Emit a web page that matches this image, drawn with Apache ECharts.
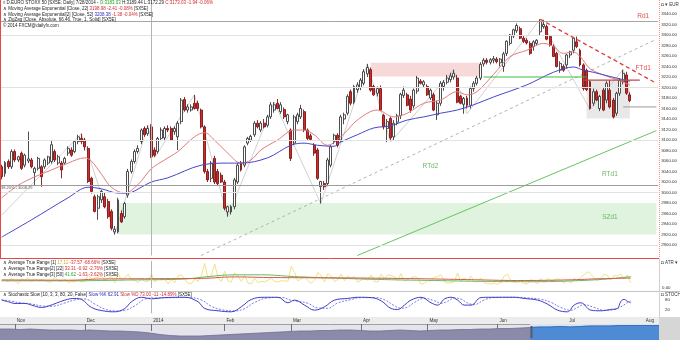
<!DOCTYPE html>
<html>
<head>
<meta charset="utf-8">
<title>EURO STOXX 50 Daily</title>
<script src="https://cdn.jsdelivr.net/npm/echarts@6/dist/echarts.min.js"></script>
<style>
html,body{margin:0;padding:0;background:#ffffff;}
#chart{width:680px;height:340px;}
</style>
</head>
<body>
<div id="chart"></div>
<script>
// ---------------- DATA ----------------
const firstDay = '2013-10-28';
const closedDays = ['2013-12-25','2013-12-26','2014-01-01','2014-04-18','2014-04-21','2014-05-01'];
const blankDaysAfter = 8;
const monthNames = ['Jan','Feb','Mar','Apr','May','Jun','Jul','Aug','Sep','Oct','Nov','Dec'];

const openP = [
3049,3036,3059,3049,3078,3062,3075,3052,3060,3062,
3038,3046,3049,3049,3056,3059,3078,3056,3056,3056,
3075,3081,3078,3097,3103,3100,3084,3027,2992,2970,
2986,2992,2983,2964,2925,2925,2960,2954,2995,3040,
3059,3078,3097,3122,3112,3125,3081,3078,3103,3104,
3122,3122,3116,3106,3135,3177,3157,3157,3170,3170,
3157,3125,3040,3027,3065,3040,3033,3020,2963,2963,
2973,3020,3056,3052,3094,3100,3110,3132,3119,3132,
3128,3144,3157,3170,3154,3158,3135,3119,3094,3135,
3144,3154,3119,3108,3090,3081,3011,3017,3017,3052,
3097,3109,3100,3140,3151,3192,3172,3196,3200,3208,
3226,3234,3202,3189,3198,3147,3122,3141,3106,3134,
3146,3185,3186,3178,3165,3193,3212,3205,3202,3180,
3186,3148,3170,3202,3210,3215,3220,3218,3183,3168,
3180,3166,3198,3208,3218,3245,3252,3248,3252,3254,
3247,3240,3265,3284,3298,3308,3312,3294,3290,3284,
3278,3284,3306,3316,3316,3297,3278,3265,3233,3240,
3243,3262,3271,3287,3271,3243,3233,3211,3170,3192,
3160,3195,3176,3195,3176,3151,3189,3211,3224,3186];
const highP = [
3053,3060,3063,3082,3082,3070,3078,3074,3116,3066,
3049,3068,3052,3065,3070,3100,3082,3072,3060,3068,
3088,3086,3100,3110,3112,3104,3088,3030,2996,2996,
3005,3000,2988,2968,2936,2990,2966,2982,3045,3063,
3082,3090,3122,3126,3128,3130,3086,3106,3124,3126,
3128,3126,3126,3136,3180,3182,3168,3168,3186,3175,
3160,3128,3045,3060,3070,3045,3038,3024,2975,2976,
3028,3056,3060,3090,3106,3110,3136,3138,3136,3140,
3148,3172,3172,3178,3172,3162,3150,3122,3148,3152,
3167,3158,3122,3112,3094,3085,3022,3022,3066,3090,
3112,3113,3148,3152,3187,3196,3205,3210,3218,3235,
3245,3238,3205,3202,3204,3150,3140,3145,3138,3150,
3190,3202,3190,3184,3198,3222,3216,3214,3206,3198,
3190,3175,3212,3214,3224,3228,3234,3224,3186,3182,
3184,3202,3212,3222,3248,3256,3256,3256,3260,3258,
3256,3268,3290,3302,3312,3322,3316,3298,3294,3288,
3290,3292,3330,3329,3320,3300,3282,3268,3250,3244,
3264,3270,3296,3297,3274,3246,3236,3214,3198,3196,
3186,3200,3212,3214,3180,3192,3218,3234,3230,3191];
const lowP = [
3025,3030,3045,3045,3058,3058,3043,3048,3056,3046,
3014,3042,3011,3045,3052,3055,3058,3052,3027,3052,
3070,3068,3075,3092,3092,3080,3018,2998,2962,2948,
2980,2970,2950,2928,2920,2922,2942,2950,2990,3036,
3055,3074,3092,3106,3108,3066,3068,3074,3098,3098,
3115,3098,3110,3081,3130,3154,3152,3154,3158,3155,
3122,3036,3020,3020,3016,3014,3018,2966,2954,2958,
2968,3016,3040,3048,3090,3096,3106,3122,3115,3122,
3124,3140,3152,3160,3150,3140,3130,3060,3090,3130,
3140,3115,3100,3098,3070,3024,2979,3005,3012,3048,
3092,3086,3096,3130,3147,3166,3168,3190,3195,3204,
3220,3192,3184,3183,3155,3120,3096,3100,3100,3128,
3140,3180,3164,3152,3160,3188,3206,3200,3184,3176,
3155,3138,3165,3194,3206,3210,3215,3170,3168,3150,
3160,3160,3192,3204,3214,3240,3244,3244,3246,3246,
3240,3230,3260,3280,3294,3304,3292,3285,3282,3262,
3270,3280,3300,3312,3290,3278,3258,3238,3228,3230,
3236,3256,3265,3275,3240,3194,3193,3158,3165,3174,
3155,3155,3170,3160,3141,3146,3184,3206,3186,3172];
const closeP = [
3030,3057,3049,3078,3062,3068,3046,3071,3064,3049,
3046,3065,3030,3062,3068,3091,3062,3068,3043,3065,
3084,3071,3097,3106,3097,3087,3021,3002,2964,2992,
3002,2973,2954,2932,2930,2986,2944,2979,3040,3059,
3078,3084,3119,3110,3122,3068,3071,3103,3119,3122,
3119,3100,3122,3132,3176,3157,3163,3163,3160,3160,
3125,3040,3024,3056,3020,3017,3020,2970,2973,2973,
3024,3052,3043,3087,3103,3107,3132,3125,3132,3125,
3144,3167,3167,3160,3167,3144,3148,3065,3144,3148,
3160,3119,3103,3101,3075,3027,3021,3011,3062,3087,
3109,3090,3144,3148,3183,3170,3202,3205,3214,3230,
3238,3195,3186,3198,3157,3125,3135,3104,3132,3146,
3187,3195,3166,3157,3195,3218,3208,3211,3186,3195,
3157,3170,3208,3210,3218,3222,3227,3172,3170,3179,
3166,3198,3208,3218,3244,3252,3248,3253,3255,3249,
3254,3264,3288,3300,3310,3318,3294,3288,3285,3265,
3287,3290,3326,3320,3292,3281,3259,3240,3246,3233,
3262,3268,3294,3278,3243,3198,3196,3160,3192,3176,
3183,3157,3208,3163,3144,3189,3214,3227,3189,3175];

// EMA lines read at sample candles (index, value)
const ema22Idx = [0,5,10,15,20,25,27,30,33,37,41,45,49,53,58,61,64,68,72,75,78,83,88,91,94,98,103,107,113,118,122,127,132,137,140,143,148,153,158,163,166,169,172,174,177,181,185,189];
const ema22Val = [2990,3014,3030,3043,3056,3066,3060,3035,3010,2999,3015,3045,3062,3078,3106,3114,3100,3075,3056,3062,3081,3100,3119,3119,3110,3090,3112,3138,3157,3144,3151,3170,3176,3192,3186,3192,3225,3259,3271,3284,3278,3265,3268,3259,3236,3224,3215,3205];
const ema52Idx = [0,9,20,26,30,35,38,42,45,50,60,68,72,80,87,91,95,100,102,107,112,117,122,127,132,137,142,148,158,166,172,175,178,183,189];
const ema52Val = [2915,2948,2990,3010,3007,2999,2999,3010,3020,3028,3052,3056,3056,3066,3090,3094,3090,3088,3096,3110,3123,3127,3138,3144,3151,3157,3167,3182,3205,3229,3239,3233,3229,3221,3212];
const zigzagIdx = [0,24,34,44,46,58,68,82,96,110,117,136,140,162,177,187,189];
const zigzagVal = [2957,3112,2920,3128,3066,3186,2954,3172,2979,3245,3096,3234,3150,3330,3158,3234,3183];

// ATR panel
const atr1 = [
24,28,20,32,24,14,30,26,34,22, 30,26,28,26,20,20,36,24,22,30,
18,22,20,26,20,22,44,30,34,36, 40,26,32,38,18,50,24,32,46,28,
26,18,32,22,22,48,20,30,28,30, 14,28,18,40,44,28,16,14,30,22,
40,82,30,42,80,34,22,56,24,20, 50,40,22,42,16,14,32,18,22,20,
26,32,22,20,24,24,22,72,52,24, 30,40,24,16,26,52,42,20,48,40,
22,28,46,24,40,32,38,20,26,32, 26,44,22,20,46,30,44,42,38,24,
48,22,28,34,38,34,12,16,24,24, 36,38,44,22,16,18,20,50,20,34,
24,40,22,20,34,18,14,14,16,12, 18,40,46,24,20,20,26,14,14,28,
22,14,32,18,32,24,26,32,24,16, 28,16,32,24,36,44,54,46,34,24,
32,46,42,26,42,40,46,30,44,17];
const atr22Idx = [0,20,30,45,60,70,80,95,110,125,140,155,170,180,189];
const atr22Val = [27,26,30,31,32,37,35,34,33,31,28,25,27,31,33];
const atr50Idx = [0,20,40,55,62,70,78,88,100,115,130,145,160,172,182,189];
const atr50Val = [24,24,27,30,38,44,44,38,33,28,25,22,21,24,30,38];

// Stochastic panel
const stochKIdx = [0,2,4,7,9,12,14,19,22,24,27,31,34,37,39,42,45,49,55,59,61,65,69,72,75,79,83,86,88,91,94,97,100,104,107,111,114,117,119,121,123,126,129,131,133,135,137,139,141,144,147,154,157,161,164,167,170,172,174,177,180,183,185,186,187,188,189];
const stochKVal = [79,69,59,59,49,35,43,79,89,83,35,13,9,29,69,96,87,94,96,69,29,15,9,39,83,96,96,63,79,49,19,39,79,89,96,94,75,29,23,49,79,96,63,49,85,96,79,49,49,94,96,96,89,79,55,19,9,49,63,19,15,23,29,70,83,72,63];
const stochDIdx = [0,3,6,9,12,15,19,22,25,28,31,34,37,40,43,46,50,56,60,63,66,70,73,76,80,84,87,89,92,95,98,101,105,108,112,115,118,120,122,124,127,130,132,134,136,138,140,142,145,148,155,158,162,165,168,171,173,175,178,181,184,186,188,189];
const stochDVal = [82,72,62,56,44,42,62,80,86,55,25,14,18,45,85,92,93,95,80,42,22,14,28,65,92,95,78,72,60,32,30,62,82,94,94,82,45,30,38,65,90,75,60,72,92,85,62,52,80,95,96,92,84,66,35,18,35,52,35,18,22,38,64,73];

// Navigator (overview of the long history)
const navVals = [3100,3100,3050,3100,3050,3000,3000,3000,2950,3000,
2950,2900,2900,2850,2800,2700,2550,2450,2400,2400,
2400,2450,2500,2550,2600,2650,2700,2750,2800,2850,
2900,2900,2950,2950,3000,3000,2950,2900,2900,2950,
3000,2950,2900,2950,3000,3000,3050,3050,3100,3100,
3150,3150,3200,3250,3300,3300,3350,3300,3350,3400,
3400,3400,3450,3450,3450,3450,3450];
const navSelectedFrom = 53;

// Price axis tick labels
const priceMin = 2880, priceMax = 3360, priceStep = 20;
const gridLevels = [2900,3000,3100,3200,3300];

// Drawing tools / annotations (data space)
const levelRd1 = 3327;
const level382 = 3014, level382Text = '38.20% - 3008.29';
const ftd1Idx = [162,197], ftd1Val = [3330,3208];
const rtd2Idx = [60,197], rtd2Val = [2880,3292];
const rtd1Idx = [107,197], rtd1Val = [2880,3118];
const greenLevelIdx = [145,176], greenLevelVal = [3220,3220];
const redLevelIdx = [175,192], redLevelVal = [3214,3214];
const grayLevelIdx = [187,197], grayLevelVal = [3163,3163];
const zoneSZ = {from:35, to:197, lo:2920, hi:2980};
const zonePink = {from:111, to:144, lo:3221, hi:3247};
const boxGray = {from:176, to:189, lo:3141, hi:3214};
const annoText = ['Rd1','FTd1','RTd2','RTd1','SZd1'];
const annoIdx = [193,193,129,183,183];
const annoVal = [3335,3236,3050,3035,2952];
const annoColor = ['#e05050','#e05050','#6cb86c','#6cb86c','#6cb86c'];

// ---------------- BUILD ----------------
const dates = [];
(function () {
  const d = new Date(firstDay + 'T00:00:00Z');
  const total = openP.length + blankDaysAfter;
  while (dates.length < total) {
    const wd = d.getUTCDay();
    const s = d.toISOString().slice(0, 10);
    if (wd !== 0 && wd !== 6 && closedDays.indexOf(s) < 0) dates.push(s);
    d.setUTCDate(d.getUTCDate() + 1);
  }
})();
const yearStartIdx = dates.indexOf('2014-01-02');
const isMonthStart = (i) => i > 0 && dates[i].slice(0, 7) !== dates[i - 1].slice(0, 7);
const monthLabel = (v) => { const m = +v.slice(5, 7); return m === 1 ? v.slice(0, 4) : monthNames[m - 1]; };
const pairs = (ix, vs) => ix.map((x, k) => [x, vs[k]]);
const candles = openP.map((o, i) => [o, closeP[i], lowP[i], highP[i]]);
const navCats = navVals.map((v, i) => String(i));

const FONT = 'Liberation Sans';
const tiny = 4.5;

function boxLabel(val, text, fg, bg, bd) {
  return { yAxis: val, lineStyle: { width: 0, opacity: 0 },
    label: { show: true, position: 'end', formatter: text, fontSize: 4.2, fontFamily: FONT, color: fg,
      backgroundColor: bg, borderColor: bd, borderWidth: 0.6, padding: [0.6, 1.5, 0.4, 1.5], distance: 2 } };
}

const option = {
  animation: false,
  backgroundColor: '#ffffff',
  textStyle: { fontFamily: FONT },
  grid: [
    { left: 0, right: 21, top: 3.5, height: 252 },
    { left: 0, right: 21, top: 261, height: 27 },
    { left: 0, right: 21, top: 296.6, height: 16.7 },
    { left: 0, right: 21, top: 317, height: 7, show: true, backgroundColor: '#ececec', borderWidth: 0 },
    { left: 0, right: 20, top: 324, height: 16, show: true, backgroundColor: '#e4e4ea', borderWidth: 0 }
  ],
  xAxis: [
    { type: 'category', gridIndex: 0, data: dates, show: false },
    { type: 'category', gridIndex: 1, data: dates, show: false },
    { type: 'category', gridIndex: 2, data: dates, show: false },
    { type: 'category', gridIndex: 3, data: dates, position: 'top',
      axisLine: { show: true, lineStyle: { color: '#a0a0a0', width: 1 } },
      axisTick: { show: true, inside: true, length: 7, alignWithLabel: true, interval: (i) => isMonthStart(i), lineStyle: { color: '#555', width: 0.8 } },
      axisLabel: { show: true, inside: true, interval: (i) => isMonthStart(i), formatter: monthLabel, fontSize: 4.6, color: '#333',
        align: 'left', verticalAlign: 'top', margin: 1.2, padding: [0, 0, 0, 1.8] },
      splitLine: { show: false } },
    { type: 'category', gridIndex: 4, data: navCats, boundaryGap: false, show: false }
  ],
  yAxis: [
    { type: 'value', gridIndex: 0, position: 'right', min: priceMin, max: priceMax, interval: priceStep,
      axisLine: { show: false }, axisTick: { show: false }, splitLine: { show: false },
      axisLabel: { fontSize: 4.4, color: '#333', margin: 3, showMinLabel: false, showMaxLabel: false, formatter: (v) => v.toFixed(2) } },
    { type: 'value', gridIndex: 1, position: 'right', min: 0, max: 90, interval: 30,
      axisLine: { show: false }, axisTick: { show: false }, splitLine: { show: false },
      axisLabel: { fontSize: 4.4, color: '#333', margin: 3, formatter: (v) => (v === 0 ? '0.00' : '') } },
    { type: 'value', gridIndex: 2, position: 'right', min: 0, max: 100, interval: 20,
      axisLine: { show: false }, axisTick: { show: false }, splitLine: { show: false },
      axisLabel: { fontSize: 4.4, color: '#333', margin: 6, formatter: (v) => (v === 20 || v === 80 ? String(v) : '') } },
    { type: 'value', gridIndex: 3, show: false },
    { type: 'value', gridIndex: 4, min: 2000, max: 3600, show: false }
  ],
  series: [
    // annotations / drawing tools host
    { type: 'line', xAxisIndex: 0, yAxisIndex: 0, data: [[0, levelRd1]], symbol: 'none', lineStyle: { opacity: 0 }, silent: true, z: 1,
      markArea: { silent: true, label: { show: false }, data: [
        [{ xAxis: zoneSZ.from, yAxis: zoneSZ.lo, itemStyle: { color: 'rgba(196,234,196,0.55)' } }, { xAxis: zoneSZ.to, yAxis: zoneSZ.hi }],
        [{ xAxis: zonePink.from, yAxis: zonePink.lo, itemStyle: { color: 'rgba(242,196,196,0.65)' } }, { xAxis: zonePink.to, yAxis: zonePink.hi }],
        [{ xAxis: boxGray.from, yAxis: boxGray.lo, itemStyle: { color: 'rgba(205,205,205,0.45)' } }, { xAxis: boxGray.to, yAxis: boxGray.hi }]
      ] },
      markLine: { silent: true, symbol: ['none', 'none'], label: { show: false }, lineStyle: { type: 'solid' }, data: [
        ...gridLevels.map((v) => ({ yAxis: v, lineStyle: { color: '#e2e2e2', width: 1 } })),
        { xAxis: yearStartIdx, lineStyle: { color: '#b4b4b4', width: 1 } },
        { yAxis: levelRd1, lineStyle: { color: '#a6a6a6', width: 1 } },
        { yAxis: level382, lineStyle: { color: '#9c9c9c', width: 1 },
          label: { show: true, position: 'insideStartBottom', formatter: level382Text, fontSize: 4, color: '#555', distance: [1, 1] } },
        boxLabel(3208.38, '3208.38', '#1f2fa0', '#e6e9ff', '#5a66cc'),
        boxLabel(closeP[closeP.length - 1], '3173.03', '#111', '#ffffff', '#333')
      ] },
      markPoint: { silent: true, symbol: 'circle', symbolSize: 1, itemStyle: { color: 'rgba(0,0,0,0)' },
        data: annoText.map((t, k) => ({ coord: [annoIdx[k], annoVal[k]],
          label: { show: true, position: 'inside', formatter: t, color: annoColor[k], fontSize: 6.5, fontFamily: FONT } })) }
    },
    { type: 'line', xAxisIndex: 0, yAxisIndex: 0, data: pairs(rtd2Idx, rtd2Val), symbol: 'none', silent: true, z: 2,
      lineStyle: { color: '#a9b9a9', width: 1, type: [3, 3] } },
    { type: 'line', xAxisIndex: 0, yAxisIndex: 0, data: pairs(rtd1Idx, rtd1Val), symbol: 'none', silent: true, z: 2,
      lineStyle: { color: '#66c466', width: 1 } },
    { type: 'line', xAxisIndex: 0, yAxisIndex: 0, data: pairs(zigzagIdx, zigzagVal), symbol: 'none', silent: true, z: 2,
      lineStyle: { color: '#c4c4c4', width: 0.8 } },
    { type: 'candlestick', xAxisIndex: 0, yAxisIndex: 0, data: candles, barWidth: '74%', silent: true, z: 3,
      itemStyle: { color: '#ffffff', color0: '#d42a2a', borderColor: '#3a3a3a', borderColor0: '#7a1616', borderWidth: 0.9 } },
    { type: 'line', xAxisIndex: 0, yAxisIndex: 0, data: pairs(ema22Idx, ema22Val), symbol: 'none', smooth: 0.35, silent: true, z: 4,
      lineStyle: { color: '#e57a7a', width: 1 } },
    { type: 'line', xAxisIndex: 0, yAxisIndex: 0, data: pairs(ema52Idx, ema52Val), symbol: 'none', smooth: 0.35, silent: true, z: 4,
      lineStyle: { color: '#4646cc', width: 1 } },
    { type: 'line', xAxisIndex: 0, yAxisIndex: 0, data: pairs(greenLevelIdx, greenLevelVal), symbol: 'none', silent: true, z: 5,
      lineStyle: { color: '#3cc03c', width: 1.2 } },
    { type: 'line', xAxisIndex: 0, yAxisIndex: 0, data: pairs(redLevelIdx, redLevelVal), symbol: 'none', silent: true, z: 5,
      lineStyle: { color: '#c24848', width: 1.2 } },
    { type: 'line', xAxisIndex: 0, yAxisIndex: 0, data: pairs(grayLevelIdx, grayLevelVal), symbol: 'none', silent: true, z: 5,
      lineStyle: { color: '#9a9a9a', width: 1 } },
    { type: 'line', xAxisIndex: 0, yAxisIndex: 0, data: pairs(ftd1Idx, ftd1Val), symbol: 'none', silent: true, z: 5,
      lineStyle: { color: '#e03a3a', width: 1.3, type: [4, 3] } },

    // ATR panel
    { type: 'line', xAxisIndex: 1, yAxisIndex: 1, data: atr1, symbol: 'none', silent: true, z: 3,
      lineStyle: { color: '#f0dc78', width: 0.9 },
      markLine: { silent: true, symbol: ['none', 'none'], label: { show: false }, data: [
        { xAxis: yearStartIdx, lineStyle: { color: '#b4b4b4', width: 1, type: 'solid' } },
        boxLabel(33.31, '33.31', '#8a2a1a', '#fde2d8', '#d06040'),
        boxLabel(17.11, '17.11', '#6a5a10', '#fff6c0', '#d0b030')
      ] } },
    { type: 'line', xAxisIndex: 1, yAxisIndex: 1, data: pairs(atr50Idx, atr50Val), symbol: 'none', smooth: 0.4, silent: true, z: 4,
      lineStyle: { color: '#66bb66', width: 1 } },
    { type: 'line', xAxisIndex: 1, yAxisIndex: 1, data: pairs(atr22Idx, atr22Val), symbol: 'none', smooth: 0.4, silent: true, z: 4,
      lineStyle: { color: '#d85a4a', width: 1 } },

    // Stochastic panel
    { type: 'line', xAxisIndex: 2, yAxisIndex: 2, data: pairs(stochDIdx, stochDVal), symbol: 'none', smooth: 0.4, silent: true, z: 3,
      lineStyle: { color: '#5a5ad6', width: 0.8, type: [2, 1.5] },
      markLine: { silent: true, symbol: ['none', 'none'], label: { show: false }, data: [
        { xAxis: yearStartIdx, lineStyle: { color: '#b4b4b4', width: 1, type: 'solid' } },
        boxLabel(62.91, '62.91', '#1f2fa0', '#e6e9ff', '#5a66cc')
      ] } },
    { type: 'line', xAxisIndex: 2, yAxisIndex: 2, data: pairs(stochKIdx, stochKVal), symbol: 'none', smooth: 0.4, silent: true, z: 4,
      lineStyle: { color: '#3c3cc8', width: 1 } },

    // Navigator
    { type: 'line', xAxisIndex: 4, yAxisIndex: 4, data: navVals, symbol: 'none', silent: true, z: 2,
      lineStyle: { color: '#706e96', width: 0.8 }, areaStyle: { color: '#8c8aa9', opacity: 1 } },
    { type: 'line', xAxisIndex: 4, yAxisIndex: 4, data: navVals.map((v, i) => [i, v]).slice(navSelectedFrom), symbol: 'none', silent: true, z: 3,
      lineStyle: { color: '#2f6cc0', width: 0.8 }, areaStyle: { color: '#4f8ad4', opacity: 1 },
      markArea: { silent: true, data: [[{ xAxis: navSelectedFrom, itemStyle: { color: '#d9e5f5' } }, { xAxis: navVals.length - 1 }]] } }
  ],
  graphic: [
    // panel frames
    { type: 'line', shape: { x1: 0.5, y1: 0, x2: 0.5, y2: 258.5 }, style: { stroke: '#e24a4a', lineWidth: 1 }, silent: true, z: 10 },
    { type: 'line', shape: { x1: 0, y1: 258.5, x2: 659, y2: 258.5 }, style: { stroke: '#e24a4a', lineWidth: 1 }, silent: true, z: 10 },
    { type: 'line', shape: { x1: 659.5, y1: 0, x2: 659.5, y2: 258.5 }, style: { stroke: '#f09090', lineWidth: 1, lineDash: [1, 1] }, silent: true, z: 10 },
    { type: 'line', shape: { x1: 151.5, y1: 0, x2: 151.5, y2: 3.5 }, style: { stroke: '#b4b4b4', lineWidth: 1 }, silent: true, z: 1 },
    { type: 'line', shape: { x1: 0, y1: 291.5, x2: 680, y2: 291.5 }, style: { stroke: '#c4c4c4', lineWidth: 1 }, silent: true, z: 10 },
    { type: 'line', shape: { x1: 659.5, y1: 259, x2: 659.5, y2: 317 }, style: { stroke: '#d0d0d0', lineWidth: 1 }, silent: true, z: 10 },
    { type: 'rect', shape: { x: 659, y: 317, width: 21, height: 23 }, style: { fill: '#d6d6d6' }, silent: true, z: 10 },
    { type: 'rect', shape: { x: 530.5, y: 326, width: 2, height: 12 }, style: { fill: '#5a5a6a' }, silent: true, z: 12 },

    // top-left legend
    { type: 'text', x: 3, y: 3, silent: true, z: 20, style: { fontSize: tiny, fontFamily: FONT, fill: '#222', verticalAlign: 'middle',
      text: '{k|◊ D.EURO STOXX 50 [SX5E: Daily] 7/28/2014 - }{g|O:3183.03 }{k|H:3189.44 L:3172.29 }{r|C:3173.03 -1.94 -0.06%}',
      rich: { k: { fill: '#222', fontSize: tiny, fontFamily: FONT }, g: { fill: '#1e9e1e', fontSize: tiny, fontFamily: FONT }, r: { fill: '#d42a2a', fontSize: tiny, fontFamily: FONT } } } },
    { type: 'text', x: 3, y: 9, silent: true, z: 20, style: { fontSize: tiny, fontFamily: FONT, fill: '#222', verticalAlign: 'middle',
      text: '{k|∧ Moving Average Exponential [Close, 22] }{r|3198.98 -2.41 -0.08%}{k| [SX5E]}',
      rich: { k: { fill: '#222', fontSize: tiny, fontFamily: FONT }, r: { fill: '#d42a2a', fontSize: tiny, fontFamily: FONT } } } },
    { type: 'text', x: 3, y: 14.6, silent: true, z: 20, style: { fontSize: tiny, fontFamily: FONT, fill: '#222', verticalAlign: 'middle',
      text: '{k|∧ Moving Average Exponential[2] [Close, 52] }{b|3208.38 }{r|-1.38 -0.04%}{k| [SX5E]}',
      rich: { k: { fill: '#222', fontSize: tiny, fontFamily: FONT }, b: { fill: '#2a2ac0', fontSize: tiny, fontFamily: FONT }, r: { fill: '#d42a2a', fontSize: tiny, fontFamily: FONT } } } },
    { type: 'text', x: 3, y: 20.2, silent: true, z: 20, style: { fontSize: tiny, fontFamily: FONT, fill: '#222', verticalAlign: 'middle',
      text: '∧ ZigZag [Close, Absolute, 66.46, True, 1, Solid] [SX5E]' } },
    { type: 'text', x: 3, y: 25.8, silent: true, z: 20, style: { fontSize: tiny, fontFamily: FONT, fill: '#222', verticalAlign: 'middle',
      text: '© 2014 FXCM@dailyfx.com' } },

    // ATR legend
    { type: 'text', x: 3, y: 263, silent: true, z: 20, style: { verticalAlign: 'middle',
      text: '{k|∧ Average True Range [1] }{y|17.11 }{r|-37.57 -68.66%}{k| [SX5E]}',
      rich: { k: { fill: '#222', fontSize: tiny, fontFamily: FONT }, y: { fill: '#c8b020', fontSize: tiny, fontFamily: FONT }, r: { fill: '#d42a2a', fontSize: tiny, fontFamily: FONT } } } },
    { type: 'text', x: 3, y: 268.7, silent: true, z: 20, style: { verticalAlign: 'middle',
      text: '{k|∧ Average True Range[2] [22] }{r|33.31 -0.92 -2.76%}{k| [SX5E]}',
      rich: { k: { fill: '#222', fontSize: tiny, fontFamily: FONT }, r: { fill: '#d42a2a', fontSize: tiny, fontFamily: FONT } } } },
    { type: 'text', x: 3, y: 274.4, silent: true, z: 20, style: { verticalAlign: 'middle',
      text: '{k|∧ Average True Range[3] [50] }{g|41.62 }{r|-1.63 -3.62%}{k| [SX5E]}',
      rich: { k: { fill: '#222', fontSize: tiny, fontFamily: FONT }, g: { fill: '#2a9e2a', fontSize: tiny, fontFamily: FONT }, r: { fill: '#d42a2a', fontSize: tiny, fontFamily: FONT } } } },
    // Stochastic legend
    { type: 'text', x: 3, y: 295, silent: true, z: 20, style: { verticalAlign: 'middle',
      text: '{k|∧ Stochastic Slow [10, 3, 3, 80, 20, False] }{b|Slow %K 62.91 }{r|Slow %D 73.00 -11 -14.89%}{k| [SX5E]}',
      rich: { k: { fill: '#222', fontSize: tiny, fontFamily: FONT }, b: { fill: '#2a2ac0', fontSize: tiny, fontFamily: FONT }, r: { fill: '#d42a2a', fontSize: tiny, fontFamily: FONT } } } },

    // right-column headers
    { type: 'text', x: 661, y: 5, silent: true, z: 20, style: { verticalAlign: 'middle', fontSize: tiny, fontFamily: FONT, fill: '#333', text: '◘ ▾ EUR' } },
    { type: 'text', x: 661, y: 262.5, silent: true, z: 20, style: { verticalAlign: 'middle', fontSize: tiny, fontFamily: FONT, fill: '#333', text: '◘ ATR ▾' } },
    { type: 'text', x: 661, y: 294.5, silent: true, z: 20, style: { verticalAlign: 'middle', fontSize: tiny, fontFamily: FONT, fill: '#333', text: '◘ STOCH ▾' } }
  ]
};

const chart = echarts.init(document.getElementById('chart'), null, { renderer: 'canvas' });
chart.setOption(option);
</script>
</body>
</html>
